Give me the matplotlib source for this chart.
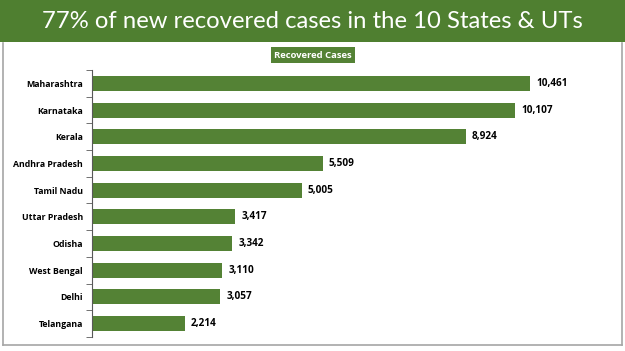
import matplotlib.pyplot as plt
from matplotlib.patches import Rectangle
from matplotlib.lines import Line2D

states = ["Maharashtra", "Karnataka", "Kerala", "Andhra Pradesh", "Tamil Nadu",
          "Uttar Pradesh", "Odisha", "West Bengal", "Delhi", "Telangana"]
recovered = [10461, 10107, 8924, 5509, 5005, 3417, 3342, 3110, 3057, 2214]

title = "77% of new recovered cases in the 10 States & UTs"
legend_label = "Recovered Cases"

green = "#548235"
W, H = 625, 351
label_font = "Open Sans"

fig = plt.figure(figsize=(W / 100, H / 100), dpi=100)
fig.patch.set_facecolor("white")

# title banner
fig.patches.append(Rectangle((0, 1 - 42 / H), 1, 42 / H, transform=fig.transFigure,
                             facecolor="#4f7f30", edgecolor="none", zorder=0))
fig.text(0.5, 1 - 21 / H, title, ha="center", va="center", color="white",
         fontsize=17.2, family="Lato")

# grey frame around the chart
frame_kw = dict(transform=fig.transFigure, color="#a6a6a6", lw=1.2)
fig.lines.append(Line2D([3 / W, 3 / W], [1 - 43 / H, 1 - 345 / H], **frame_kw))
fig.lines.append(Line2D([622 / W, 622 / W], [1 - 43 / H, 1 - 345 / H], **frame_kw))
fig.lines.append(Line2D([3 / W, 622 / W], [1 - 345 / H, 1 - 345 / H], **frame_kw))

# legend box
fig.text(313 / W, 1 - 55 / H, legend_label, ha="center", va="center", color="white",
         fontsize=6.8, fontweight="bold", family=label_font,
         bbox=dict(boxstyle="square,pad=0.35", facecolor=green, edgecolor="none"))

ax = fig.add_axes([92 / W, 1 - 337 / H, 498 / W, 267 / H])
y = list(range(len(states)))
ax.barh(y, recovered, height=0.56, color=green)
ax.set_ylim(len(states) - 0.5, -0.5)
ax.set_xlim(0, 11894)

for yi, v in zip(y, recovered):
    ax.text(v + 150, yi, f"{v:,}", va="center", ha="left", fontsize=7.2,
            fontweight="bold", family=label_font, color="black")

ax.set_yticks(y)
ax.set_yticklabels(states, fontsize=6.3, fontweight="bold", family=label_font)
ax.set_yticks([i - 0.5 for i in range(len(states) + 1)], minor=True)
ax.tick_params(axis="y", which="major", length=0, pad=6.5)
ax.tick_params(axis="y", which="minor", length=4, color="#595959")
ax.set_xticks([])
for s in ["top", "right", "bottom"]:
    ax.spines[s].set_visible(False)
ax.spines["left"].set_color("#595959")

fig.savefig("out.png", dpi=100)
